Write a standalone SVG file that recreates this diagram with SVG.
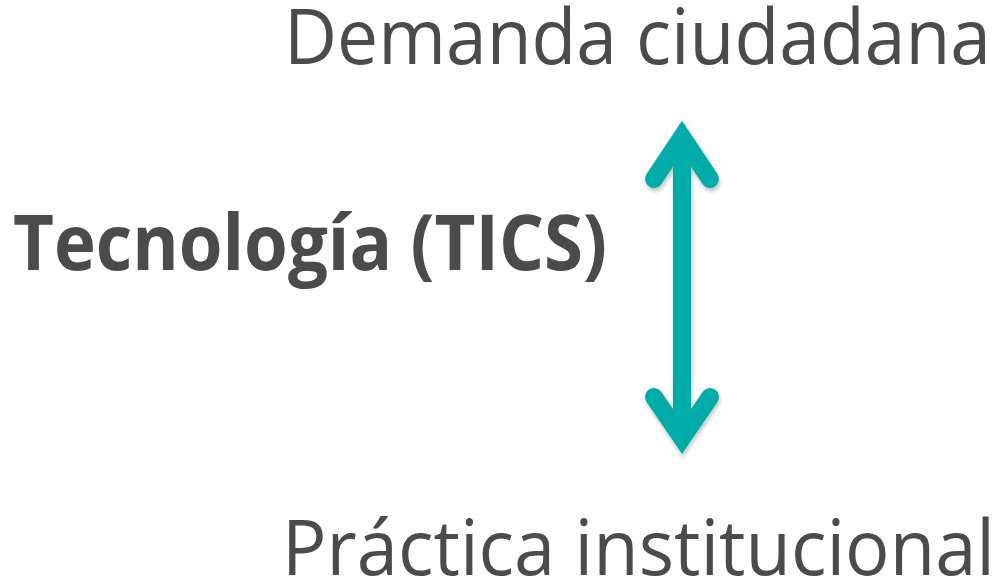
<svg xmlns="http://www.w3.org/2000/svg" width="998" height="581" viewBox="0 0 998 581">
  <defs>
    <style>
      .lbl { font-family: "Open Sans", "Liberation Sans", sans-serif; fill: #4b4b4b; }
      .big { font-size: 76px; }
      .bold { font-size: 77px; font-weight: bold; }
      .arrow { fill: none; stroke: #02aca8; stroke-width: 18; }
    </style>
    <filter id="shadow" x="-50%" y="-20%" width="200%" height="140%">
      <feDropShadow dx="1" dy="3" stdDeviation="2" flood-color="#000" flood-opacity="0.25"/>
    </filter>
  </defs>
  <rect width="998" height="581" fill="#ffffff"/>
  <g id="demanda">
    <text class="lbl big" x="284" y="64" textLength="707" lengthAdjust="spacingAndGlyphs">Demanda ciudadana</text>
  </g>
  <g id="tecnologia">
    <text class="lbl bold" x="13" y="270" textLength="594" lengthAdjust="spacingAndGlyphs">Tecnología (TICS)</text>
  </g>
  <g id="practica">
    <text class="lbl big" x="282" y="575" textLength="713" lengthAdjust="spacingAndGlyphs">Práctica institucional</text>
  </g>
  <g id="connectors" filter="url(#shadow)">
    <line class="arrow" x1="682" y1="140" x2="682" y2="435" stroke-linecap="butt"/>
    <polyline class="arrow" points="654,179 682,137 710,179" stroke-linecap="round" stroke-linejoin="miter" stroke-miterlimit="10"/>
    <polyline class="arrow" points="654,397 682,438 710,397" stroke-linecap="round" stroke-linejoin="miter" stroke-miterlimit="10"/>
  </g>
</svg>
